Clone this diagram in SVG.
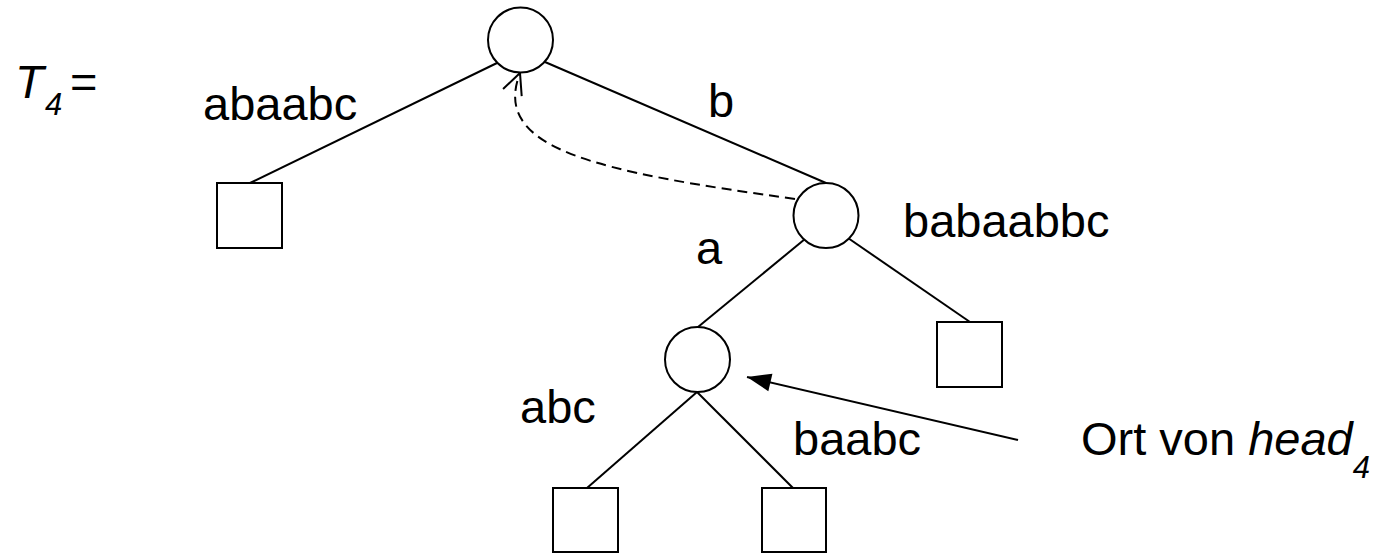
<svg xmlns="http://www.w3.org/2000/svg" width="1385" height="554" viewBox="0 0 1385 554">
<style>
.n{fill:#fff;stroke:#000;stroke-width:2}
.e{fill:none;stroke:#000;stroke-width:2}
.d{fill:none;stroke:#000;stroke-width:2;stroke-dasharray:10 6}
text{font-family:"Liberation Sans",Arial,sans-serif;font-size:47px;fill:#000}
.s{font-size:31px}
.i{font-style:italic}
</style>
<defs>
<marker id="open" markerUnits="userSpaceOnUse" markerWidth="30" markerHeight="30" viewBox="-25 -15 30 30" refX="0" refY="0" orient="auto" overflow="visible">
<path d="M-21,-10 L0,0 L-21,10" fill="none" stroke="#000" stroke-width="2"/>
</marker>
<marker id="fill" markerUnits="userSpaceOnUse" markerWidth="30" markerHeight="30" viewBox="-28 -15 30 30" refX="0" refY="0" orient="auto" overflow="visible">
<path d="M0,0 L-24,-9 L-24,9 Z" fill="#000"/>
</marker>
</defs>
<g id="connectors">
<line class="e" x1="497" y1="63" x2="250" y2="183"/>
<line class="e" x1="545" y1="62" x2="826" y2="183"/>
<line class="e" x1="805" y1="239" x2="698" y2="327"/>
<line class="e" x1="848" y1="238" x2="970" y2="322"/>
<line class="e" x1="697" y1="392" x2="587" y2="488"/>
<line class="e" x1="697" y1="392" x2="793" y2="488"/>
<path class="d" d="M795,199 C600,172 490,150 520,73" marker-end="url(#open)"/>
<line class="e" x1="1018" y1="440" x2="747" y2="377" marker-end="url(#fill)"/>
</g>
<g id="root"><circle class="n" cx="520.5" cy="40" r="32.5"/></g>
<g id="leaf-left"><rect class="n" x="217" y="183" width="65" height="65"/></g>
<g id="node-b"><circle class="n" cx="826" cy="215.5" r="32.5"/></g>
<g id="node-ba"><circle class="n" cx="697.5" cy="359.5" r="32.5"/></g>
<g id="leaf-right"><rect class="n" x="937" y="322" width="65" height="65"/></g>
<g id="leaf-abc"><rect class="n" x="553" y="488" width="65" height="64"/></g>
<g id="leaf-baabc"><rect class="n" x="762" y="488" width="64" height="64"/></g>
<g id="labels">
<text x="15" y="98"><tspan class="i">T</tspan><tspan class="i s" x="45" dy="17">4</tspan><tspan x="70" dy="-17">=</tspan></text>
<text x="203" y="120">abaabc</text>
<text x="708" y="117">b</text>
<text x="903" y="237">babaabbc</text>
<text x="696" y="264">a</text>
<text x="520" y="423">abc</text>
<text x="793" y="455">baabc</text>
<text x="1081" y="455">Ort von <tspan class="i">head</tspan><tspan class="i s" dy="23">4</tspan></text>
</g>
</svg>
